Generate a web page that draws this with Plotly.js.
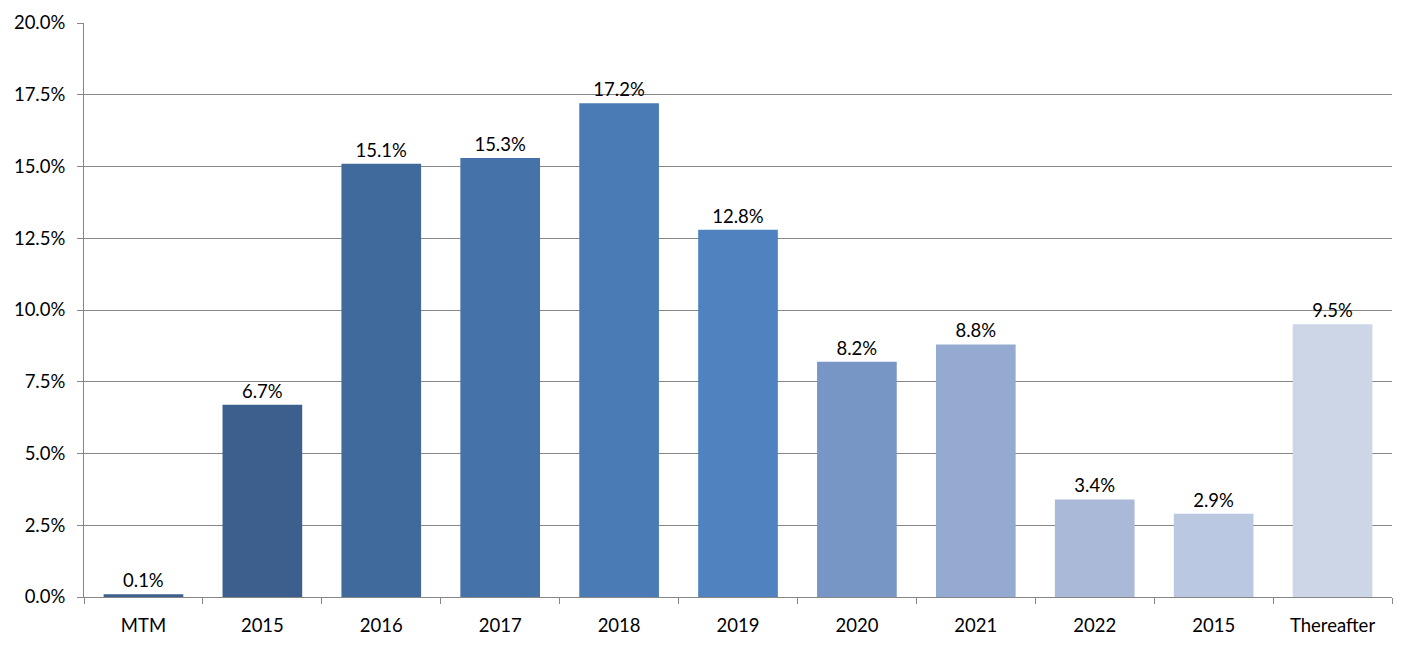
<!DOCTYPE html>
<html>
<head>
<meta charset="utf-8">
<script src="https://cdn.plot.ly/plotly-3.0.1.min.js"></script>
<style>
html,body{margin:0;padding:0;background:#fff;}
#chart{width:1415px;height:650px;}
</style>
</head>
<body>
<div id="chart"></div>
<script>
var categoryKeys = ["MTM", "2015a", "2016", "2017", "2018", "2019", "2020", "2021", "2022", "2015b", "Thereafter"];
var tickLabels = ["MTM", "2015", "2016", "2017", "2018", "2019", "2020", "2021", "2022", "2015", "Thereafter"];
var values = [0.1, 6.7, 15.1, 15.3, 17.2, 12.8, 8.2, 8.8, 3.4, 2.9, 9.5];
var barColors = ["#3C5F8D", "#3C5F8D", "#406A9C", "#4572A9", "#4A7BB5", "#4F82BE", "#7896C5", "#95AAD0", "#A9B9D7", "#BBC8E1", "#CCD6E7"];
var yTickVals = [0, 2.5, 5, 7.5, 10, 12.5, 15, 17.5, 20];
var yTickText = ["0.0%", "2.5%", "5.0%", "7.5%", "10.0%", "12.5%", "15.0%", "17.5%", "20.0%"];

var FONT = "Lato, 'Open Sans', sans-serif";

var trace = {
  type: "bar",
  x: categoryKeys,
  y: values,
  marker: {color: barColors, line: {width: 0}},
  text: values.map(function(v){ return v.toFixed(1) + "%"; }),
  textposition: "outside",
  textfont: {family: FONT, size: 18.5, color: "#000"},
  cliponaxis: false,
  hoverinfo: "none"
};

var layout = {
  width: 1415,
  height: 650,
  margin: {l: 84, r: 23, t: 23, b: 53},
  paper_bgcolor: "#fff",
  plot_bgcolor: "#fff",
  bargap: 0.33,
  showlegend: false,
  font: {family: FONT, size: 18.5, color: "#000"},
  xaxis: {
    type: "category",
    categoryorder: "array",
    categoryarray: categoryKeys,
    tickmode: "array",
    tickvals: categoryKeys,
    ticktext: tickLabels,
    tickson: "boundaries",
    ticks: "outside",
    ticklen: 6,
    tickcolor: "#868686",
    showline: true,
    linecolor: "#868686",
    linewidth: 1,
    showgrid: false,
    zeroline: false,
    tickfont: {family: FONT, size: 18.5, color: "#000"},
    ticklabelstandoff: 12
  },
  yaxis: {
    range: [0, 20],
    tickmode: "array",
    tickvals: yTickVals,
    ticktext: yTickText,
    ticks: "outside",
    ticklen: 6,
    tickcolor: "#868686",
    showline: true,
    linecolor: "#868686",
    linewidth: 1,
    showgrid: true,
    gridcolor: "#868686",
    gridwidth: 1,
    zeroline: false,
    tickfont: {family: FONT, size: 18.5, color: "#000"},
    ticklabelstandoff: 8
  }
};

Plotly.newPlot("chart", [trace], layout, {displayModeBar: false, staticPlot: true});
</script>
</body>
</html>
